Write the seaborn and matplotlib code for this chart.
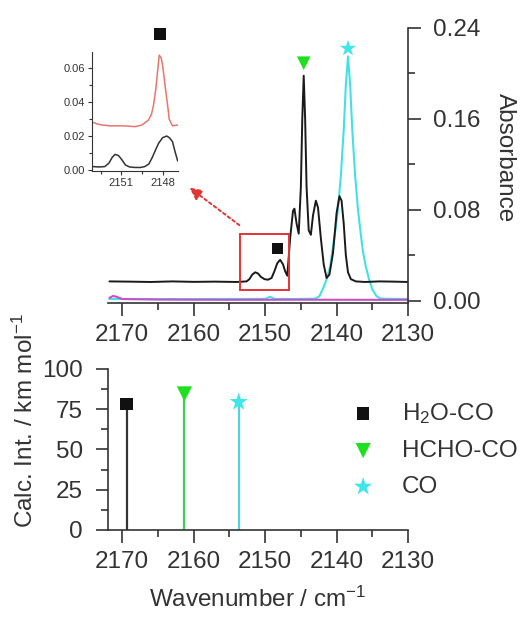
import matplotlib
matplotlib.use("Agg")
import matplotlib.pyplot as plt
from matplotlib.patches import Rectangle
from matplotlib.ticker import MultipleLocator, FormatStrFormatter
import seaborn as sns

exp_wn = [2171.8, 2169.0, 2166.0, 2163.0, 2160.0, 2157.0, 2154.0, 2152.6, 2152.2,
          2151.8, 2151.4, 2151.0, 2150.6, 2150.1, 2149.6, 2149.1, 2148.7, 2148.3,
          2147.9, 2147.5, 2147.2, 2146.9, 2146.5, 2146.1, 2145.9, 2145.6, 2145.3,
          2145.0, 2144.8, 2144.6, 2144.4, 2144.2, 2143.9, 2143.6, 2143.3, 2142.9,
          2142.6, 2142.2, 2141.8, 2141.4, 2141.0, 2140.5, 2140.0, 2139.6, 2139.3,
          2139.0, 2138.7, 2138.4, 2138.0, 2137.3, 2136.0, 2134.0, 2132.0, 2130.0]
exp_abs = [0.017, 0.0168, 0.0165, 0.017, 0.0166, 0.0168, 0.0165, 0.017, 0.019,
           0.023, 0.025, 0.024, 0.021, 0.019, 0.0185, 0.020, 0.026, 0.033,
           0.036, 0.032, 0.026, 0.022, 0.055, 0.079, 0.081, 0.068, 0.059,
           0.100, 0.160, 0.198, 0.160, 0.100, 0.062, 0.058, 0.075, 0.088,
           0.082, 0.055, 0.032, 0.020, 0.023, 0.042, 0.077, 0.092, 0.088,
           0.068, 0.040, 0.025, 0.019, 0.017, 0.0165, 0.017, 0.0168, 0.0165]

# CO reference spectrum (cyan)
co_wn = [2171.8, 2160.0, 2150.0, 2149.3, 2148.7, 2146.0, 2143.0, 2142.4, 2141.8,
         2141.4, 2140.9, 2140.5, 2140.1, 2139.8, 2139.4, 2139.0, 2138.7, 2138.4,
         2138.1, 2137.8, 2137.4, 2137.0, 2136.6, 2136.3, 2135.9, 2135.5, 2135.0,
         2134.4, 2133.8, 2130.0]
co_abs = [0.0015, 0.0015, 0.0016, 0.0035, 0.0016, 0.0015, 0.0018, 0.004, 0.012,
          0.019, 0.030, 0.048, 0.065, 0.081, 0.110, 0.150, 0.190, 0.215,
          0.190, 0.150, 0.110, 0.080, 0.058, 0.043, 0.030, 0.020, 0.010,
          0.004, 0.0018, 0.0015]

# second reference trace (magenta)
mag_wn = [2171.8, 2171.3, 2170.8, 2170.0, 2165.0, 2155.0, 2145.0, 2135.0, 2130.0]
mag_abs = [0.0025, 0.0042, 0.0035, 0.0015, 0.0010, 0.0008, 0.0009, 0.0008, 0.0008]

# inset, zoom on 2153-2147 cm-1
ins_wn = [2153.05, 2152.6, 2152.2, 2151.9, 2151.65, 2151.45, 2151.2, 2150.95,
          2150.7, 2150.4, 2150.0, 2149.6, 2149.3, 2149.0, 2148.77, 2148.5,
          2148.29, 2148.0, 2147.7, 2147.5, 2147.28, 2147.1, 2146.9]
ins_black = [0.002, 0.0018, 0.002, 0.004, 0.0075, 0.0092, 0.0085, 0.006,
             0.003, 0.0018, 0.0015, 0.0015, 0.002, 0.0035, 0.007, 0.012,
             0.0157, 0.019, 0.020, 0.019, 0.0167, 0.011, 0.0053]
ins_red_wn = [2153.05, 2152.7, 2152.4, 2151.8, 2151.0, 2150.4, 2149.98, 2149.5,
              2149.02, 2148.8, 2148.66, 2148.5, 2148.41, 2148.3, 2148.24, 2148.1,
              2148.0, 2147.76, 2147.6, 2147.52, 2147.28, 2146.9]
ins_red = [0.028, 0.027, 0.0265, 0.026, 0.026, 0.0258, 0.0255, 0.0265,
           0.0294, 0.033, 0.038, 0.047, 0.054, 0.063, 0.0676, 0.066,
           0.0618, 0.046, 0.036, 0.030, 0.026, 0.0265]

# assigned bands in the spectrum
band_wn = [2148.3, 2144.6, 2138.4]
band_abs = [0.046, 0.209, 0.222]

# calculated intensities
species = ["H$_2$O-CO", "HCHO-CO", "CO"]
calc_wn = [2169.4, 2161.3, 2153.7]
calc_int = [78.3, 84.5, 79.5]

markers = ["s", "v", "*"]
marker_sizes = [80, 120, 190]
marker_colors = ["#111111", "#1ee01e", "#3ee6ea"]
stem_colors = ["#333333", "#3fcf5a", "#4fd3dc"]

sns.set_theme(style="ticks")
plt.rcParams["font.family"] = ["Liberation Sans", "DejaVu Sans"]
plt.rcParams["mathtext.default"] = "regular"
text_c = "#333333"
fs = 17.5

fig = plt.figure(figsize=(5.21, 6.19), dpi=100)
ax_top = fig.add_axes([0.2073, 0.5105, 0.5758, 0.4443])
ax_bot = fig.add_axes([0.2073, 0.1438, 0.5758, 0.2601])
ax_in = fig.add_axes([0.1772, 0.7237, 0.1639, 0.1927])

# ---- top panel: spectra
sns.lineplot(x=co_wn, y=co_abs, ax=ax_top, color="#45e0e4", lw=1.5)
sns.lineplot(x=mag_wn, y=mag_abs, ax=ax_top, color="#c94fc9", lw=1.5)
sns.lineplot(x=exp_wn, y=exp_abs, ax=ax_top, color="#1a1a1a", lw=1.4)
for i in range(3):
    sns.scatterplot(x=[band_wn[i]], y=[band_abs[i]], ax=ax_top, marker=markers[i],
                    s=marker_sizes[i] * 0.8, color=marker_colors[i], edgecolor="none",
                    zorder=5)

ax_top.add_patch(Rectangle((2146.6, 0.0094), 6.85, 0.0493, fill=False,
                           edgecolor="#e03535", lw=1.4, zorder=6))
ax_top.annotate("", xy=(2160.9, 0.101), xytext=(2153.3, 0.065),
                arrowprops=dict(arrowstyle="-|>,head_length=0.6,head_width=0.3",
                                linestyle=(0, (1.5, 1.5)), color="#e03535", lw=1.4))

ax_top.set_xlim(2172, 2130)
ax_top.set_ylim(-0.002, 0.24)
ax_top.spines["left"].set_visible(False)
ax_top.spines["top"].set_visible(False)
ax_top.yaxis.tick_right()
ax_top.yaxis.set_label_position("right")
ax_top.xaxis.set_major_locator(MultipleLocator(10))
ax_top.xaxis.set_minor_locator(MultipleLocator(5))
ax_top.yaxis.set_major_locator(MultipleLocator(0.08))
ax_top.yaxis.set_minor_locator(MultipleLocator(0.04))
ax_top.yaxis.set_major_formatter(FormatStrFormatter("%.2f"))
ax_top.set_ylabel("Absorbance", rotation=270, fontsize=fs, color=text_c)
ax_top.yaxis.set_label_coords(1.36, 0.53)
ax_top.set_xlabel("")

# ---- inset
sns.lineplot(x=ins_red_wn, y=ins_red, ax=ax_in, color="#e8756e", lw=1.1)
sns.lineplot(x=ins_wn, y=ins_black, ax=ax_in, color="#333333", lw=1.1)
sns.scatterplot(x=[2148.17], y=[0.080], ax=ax_in, marker="s", s=70,
                color="#111111", edgecolor="none", clip_on=False)
ax_in.set_xlim(2153.1, 2146.9)
ax_in.set_ylim(-0.0006, 0.0696)
ax_in.set_facecolor("none")
ax_in.spines["top"].set_visible(False)
ax_in.spines["right"].set_visible(False)
ax_in.xaxis.set_major_locator(MultipleLocator(3))
ax_in.xaxis.set_minor_locator(MultipleLocator(1.5))
ax_in.yaxis.set_major_locator(MultipleLocator(0.02))
ax_in.yaxis.set_minor_locator(MultipleLocator(0.01))
ax_in.yaxis.set_major_formatter(FormatStrFormatter("%.2f"))
ax_in.tick_params(which="major", length=3, width=0.8, labelsize=8, pad=2,
                  colors=text_c)
ax_in.tick_params(which="minor", length=2, width=0.8, colors=text_c)
for sp in ax_in.spines.values():
    sp.set_linewidth(0.8)
    sp.set_color(text_c)

# ---- bottom panel: calculated sticks
for i in range(3):
    ax_bot.vlines(calc_wn[i], 0, calc_int[i], color=stem_colors[i], lw=1.6)
    sns.scatterplot(x=[calc_wn[i]], y=[calc_int[i]], ax=ax_bot, marker=markers[i],
                    s=marker_sizes[i], color=marker_colors[i], edgecolor="none",
                    label=species[i], zorder=5, clip_on=False)

ax_bot.set_xlim(2172, 2130)
ax_bot.set_ylim(0, 100)
ax_bot.spines["top"].set_visible(False)
ax_bot.spines["right"].set_visible(False)
ax_bot.xaxis.set_major_locator(MultipleLocator(10))
ax_bot.xaxis.set_minor_locator(MultipleLocator(5))
ax_bot.yaxis.set_major_locator(MultipleLocator(25))
ax_bot.yaxis.set_minor_locator(MultipleLocator(12.5))
ax_bot.set_xlabel("Wavenumber / cm$^{-1}$", fontsize=fs, color=text_c)
ax_bot.set_ylabel("Calc. Int. / km mol$^{-1}$", fontsize=fs, color=text_c)
ax_bot.yaxis.set_label_coords(-0.235, 0.677)
ax_bot.xaxis.set_label_coords(0.5, -0.355)
ax_bot.legend(loc="center left", bbox_to_anchor=(0.81, 0.50), frameon=False,
              fontsize=fs, handlelength=1.0, handletextpad=1.1, labelspacing=0.58,
              borderpad=0, borderaxespad=0, labelcolor=text_c)

for ax in (ax_top, ax_bot):
    ax.tick_params(which="major", length=9, width=1.2, labelsize=fs, pad=6,
                   colors=text_c)
    ax.tick_params(which="minor", length=5, width=1.2, colors=text_c)
    for sp in ax.spines.values():
        sp.set_linewidth(1.2)
        sp.set_color(text_c)
ax_top.tick_params(axis="y", which="major", pad=9)
ax_bot.tick_params(axis="y", which="major", pad=9)

fig.savefig("out.png", dpi=100)
